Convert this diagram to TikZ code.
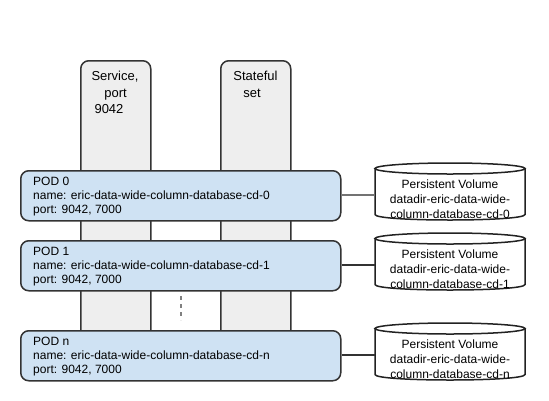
\documentclass[tikz,border=0pt]{standalone}
\usepackage{fontspec}
\setmainfont{Liberation Sans}
\definecolor{strokec}{HTML}{333333}
\definecolor{colfill}{HTML}{EEEEEE}
\definecolor{podfill}{HTML}{CFE2F3}
\definecolor{cylstroke}{HTML}{222222}
\begin{document}
\begin{tikzpicture}[x=1pt,y=-1pt,
  colbox/.style={draw=strokec, fill=colfill, line width=1.5pt, rounded corners=8pt,
    minimum width=70pt, minimum height=285pt, anchor=north west, inner sep=0pt},
  podbox/.style={draw=strokec, fill=podfill, line width=1.5pt, rounded corners=8pt,
    minimum width=320pt, minimum height=50pt, anchor=north west, inner sep=0pt},
  podtext/.style={anchor=base west, inner sep=0pt, font=\fontsize{12}{14}\selectfont, text=black},
  coltext/.style={anchor=base, inner sep=0pt, font=\fontsize{13}{16}\selectfont, text=black},
  cylarea/.style={minimum width=150pt, minimum height=57pt, anchor=north west, inner sep=0pt},
  cyltext/.style={anchor=base, inner sep=0pt, font=\fontsize{12}{15}\selectfont, text=black},
  cylline/.style={draw=cylstroke, line width=1.5pt, fill=white},
  thinlink/.style={draw=black!55, line width=1.5pt},
  thicklink/.style={draw=strokec, line width=2.5pt}
]
\useasboundingbox (0,0) rectangle (549,400);

% columns
\node[colbox] (svc) at (80,60) {};
\node[colbox] (sts) at (220,60) {};
\node[coltext] (svcA) at (115,80) {Service,};
\node[coltext] (svcB) at (115.5,97) {port};
\node[coltext] (svcC) at (109,113) {9042};
\node[coltext] (stsA) at (255.5,80) {Stateful};
\node[coltext] (stsB) at (252,97) {set};

% pods
\node[podbox] (pod0) at (20,170) {};
\node[podbox] (pod1) at (20,240) {};
\node[podbox] (podn) at (20,330) {};

\node[podtext] (p0a) at (33,185) {POD 0};
\node[podtext] (p0b) at (33,199) {name: eric-data-wide-column-database-cd-0};
\node[podtext] (p0c) at (33,213) {port: 9042, 7000};
\node[podtext] (p1a) at (33,255) {POD 1};
\node[podtext] (p1b) at (33,269) {name: eric-data-wide-column-database-cd-1};
\node[podtext] (p1c) at (33,283) {port: 9042, 7000};
\node[podtext] (pna) at (33,345) {POD n};
\node[podtext] (pnb) at (33,359) {name: eric-data-wide-column-database-cd-n};
\node[podtext] (pnc) at (33,373) {port: 9042, 7000};

% dots
\coordinate (dA) at (181,296);
\coordinate (dB) at (181,320);
\draw[draw=black!50, line width=2pt, dash pattern=on 4pt off 4pt] (dA) -- (dB);

% cylinders
\foreach \nm/\yy/\lab in {cyl0/163/0, cyl1/233/1, cyln/323/n}{
  \node[cylarea] (\nm) at (375,\yy) {};
  \path[cylline] (375,\yy+5.5) -- (375,\yy+51.5)
     .. controls (375,\yy+58.83) and (525,\yy+58.83) .. (525,\yy+51.5)
     -- (525,\yy+5.5) -- cycle;
  \draw[cylline] (450,\yy+5.5) ellipse [x radius=75, y radius=5.5];
  \node[cyltext] (\nm a) at (450,\yy+25) {Persistent Volume};
  \node[cyltext] (\nm b) at (450,\yy+40) {datadir-eric-data-wide-};
  \node[cyltext] (\nm c) at (450,\yy+55) {column-database-cd-\lab};
}

% links
\draw[thinlink] (pod0.east) ++(0,-1) coordinate (l0) -- (l0 -| cyl0.west);
\draw[thicklink] (pod1.east) ++(0,-1) coordinate (l1) -- (l1 -| cyl1.west);
\draw[thicklink] (podn.east) ++(0,-1) coordinate (ln) -- (ln -| cyln.west);
\end{tikzpicture}
\end{document}
